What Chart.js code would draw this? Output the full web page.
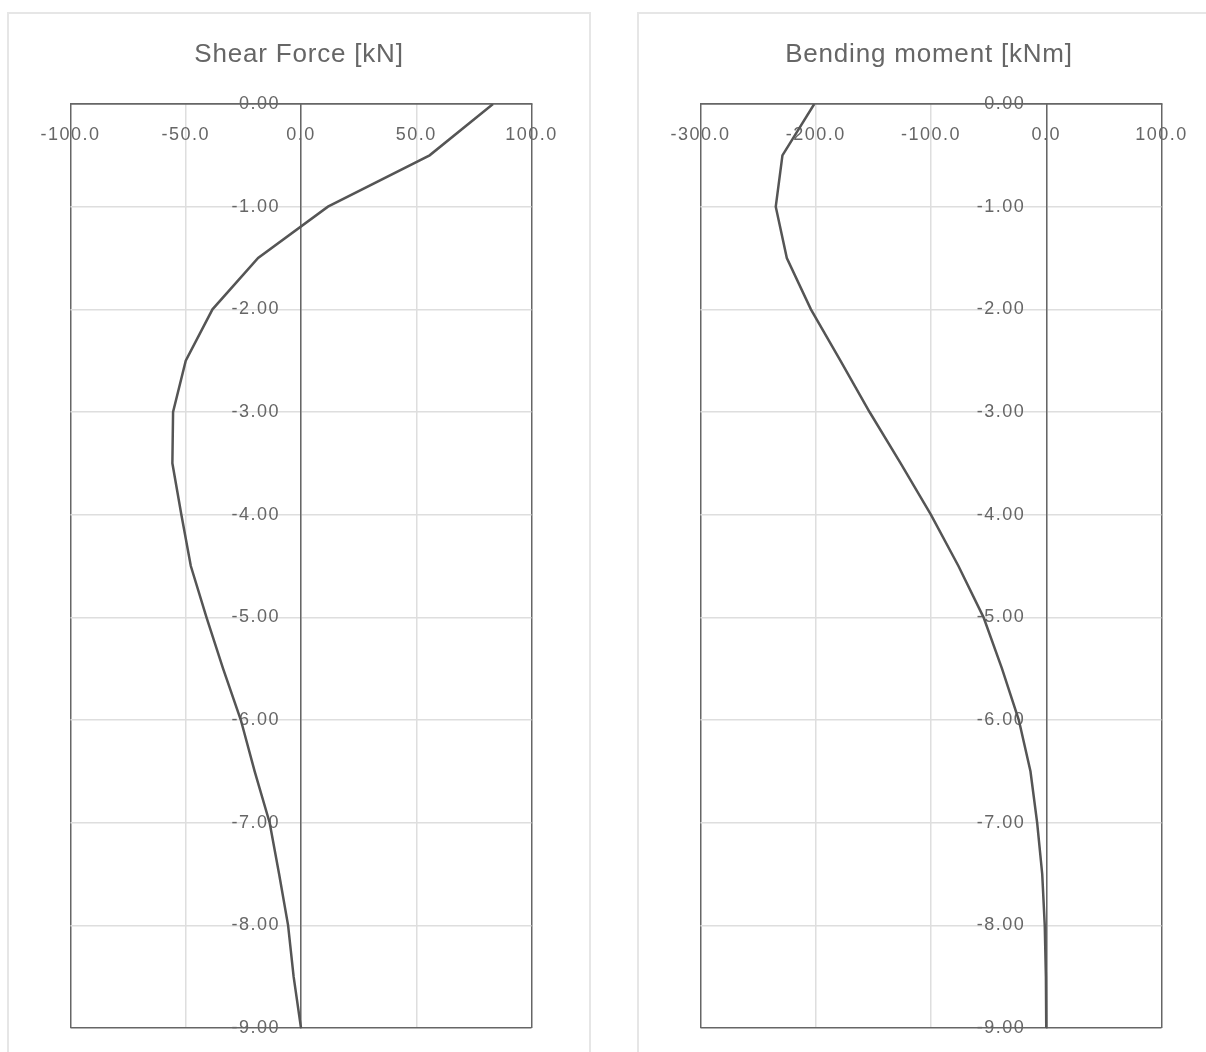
<!DOCTYPE html>
<html>
<head>
<meta charset="utf-8">
<script src="https://cdn.jsdelivr.net/npm/chart.js@4.4.0/dist/chart.umd.min.js"></script>
<style>
  html, body { margin: 0; padding: 0; background: #fff; overflow: hidden; width: 1206px; height: 1052px; }
  .panel { position: absolute; top: 12px; width: 580px; height: 1060px; border: 2px solid #e6e6e6; }
  #p1 { left: 7px; }
  #p2 { left: 637px; }
  .panel canvas { position: absolute; left: 0; top: 0; }
  .title { position: absolute; left: 0; right: 0; top: 24px; line-height: 30px; text-align: center;
           font-family: "Liberation Sans", Arial, sans-serif; font-size: 26px; color: #666; letter-spacing: 0.8px; }
</style>
</head>
<body>
<div class="panel" id="p1">
  <canvas id="shear" width="580" height="1040"></canvas>
  <div class="title">Shear Force [kN]</div>
</div>
<div class="panel" id="p2">
  <canvas id="moment" width="580" height="1040"></canvas>
  <div class="title">Bending moment [kNm]</div>
</div>
<script>
// depth along the wall [m]
const depth = [0, -0.5, -1, -1.5, -2, -2.5, -3, -3.5, -4, -4.5, -5, -5.5, -6, -6.5, -7, -7.5, -8, -8.5, -9];
// shear force [kN]
const shearForce = [83.3, 55.8, 11.7, -18.6, -38.4, -50, -55.5, -55.8, -51.9, -47.8, -41, -33.8, -26.1, -20.1, -13.6, -9.5, -5.6, -3.2, 0];
// bending moment [kNm]
const bendingMoment = [-201.3, -228.9, -234.7, -225.1, -204.2, -178.6, -153.3, -126.3, -100.1, -76.2, -54.4, -38.4, -23.8, -13.7, -7.9, -3.5, -1.3, -0.3, 0];

const shearTicks = [-100, -50, 0, 50, 100];
const momentTicks = [-300, -200, -100, 0, 100];
const depthTicks = [0, -1, -2, -3, -4, -5, -6, -7, -8, -9];

const DARK = '#666666';
const LIGHT = '#dedede';
const FONT = { family: '"Liberation Sans", Arial, sans-serif', size: 18 };

// a bit of letter spacing on the canvas text
const spacing = {
  id: 'spacing',
  beforeLayout(chart) { chart.ctx.letterSpacing = '1.5px'; },
  beforeDraw(chart) { chart.ctx.letterSpacing = '1.5px'; }
};

function isEdge(c, min, max) {
  return c.tick && (c.tick.value === min || c.tick.value === max);
}

function makeChart(id, values, xTicks) {
  const xMin = Math.min(...xTicks), xMax = Math.max(...xTicks);
  const yMin = Math.min(...depthTicks), yMax = Math.max(...depthTicks);
  const points = depth.map((d, i) => ({ x: values[i], y: d }));

  return new Chart(document.getElementById(id), {
    type: 'line',
    data: {
      datasets: [{
        data: points,
        borderColor: '#555555',
        borderWidth: 2.5,
        pointRadius: 0,
        fill: false,
        tension: 0
      }]
    },
    options: {
      responsive: false,
      animation: false,
      devicePixelRatio: 1,
      layout: { padding: { left: 61.5, right: 57.5, top: 90, bottom: 26 } },
      plugins: {
        legend: { display: false },
        tooltip: { enabled: false },
        title: { display: false }
      },
      scales: {
        x: {
          type: 'linear',
          position: { y: 0 },
          min: xMin,
          max: xMax,
          afterBuildTicks: s => { s.ticks = xTicks.map(v => ({ value: v })); },
          grid: {
            drawTicks: false,
            color: c => isEdge(c, xMin, xMax) ? DARK : LIGHT,
            lineWidth: 1.5
          },
          border: { display: true, color: DARK, width: 1.5 },
          ticks: {
            padding: 20,
            color: '#666',
            font: FONT,
            maxRotation: 0,
            autoSkip: false,
            callback: v => Number(v).toFixed(1)
          }
        },
        y: {
          type: 'linear',
          position: { x: 0 },
          min: yMin,
          max: yMax,
          afterBuildTicks: s => { s.ticks = depthTicks.map(v => ({ value: v })); },
          grid: {
            drawTicks: false,
            color: c => isEdge(c, yMin, yMax) ? DARK : LIGHT,
            lineWidth: 1.5
          },
          border: { display: true, color: DARK, width: 1.5 },
          ticks: {
            color: '#666',
            font: FONT,
            autoSkip: false,
            // labels sit left of the zero line, keep a gap with two en spaces
            callback: v => Number(v).toFixed(2) + '\u2002\u2002'
          }
        }
      }
    },
    plugins: [spacing]
  });
}

makeChart('shear', shearForce, shearTicks);
makeChart('moment', bendingMoment, momentTicks);
</script>
</body>
</html>
